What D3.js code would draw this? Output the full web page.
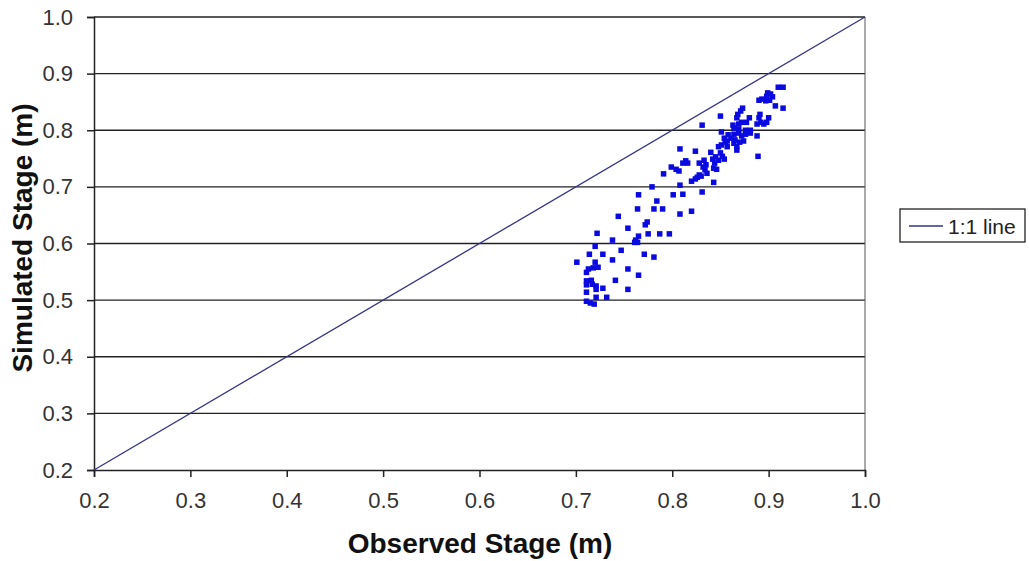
<!DOCTYPE html>
<html>
<head>
<meta charset="utf-8">
<script src="https://cdn.jsdelivr.net/npm/d3@7"></script>
<style>
  html, body { margin: 0; padding: 0; background: #fff; }
  svg { display: block; font-family: "Liberation Sans", Arial, sans-serif; }
</style>
</head>
<body>
<svg id="chart" width="1029" height="561"></svg>
<script>
// Observed vs simulated stage (m)
const observed = [
  0.711, 0.715, 0.719, 0.721, 0.732, 0.711, 0.721, 0.728, 0.721, 0.711,
  0.754, 0.711, 0.716, 0.717, 0.741, 0.765, 0.711, 0.713, 0.718, 0.723,
  0.754, 0.701, 0.720, 0.738, 0.714, 0.728, 0.771, 0.781, 0.747, 0.720,
  0.738, 0.762, 0.761, 0.764, 0.765, 0.722, 0.775, 0.787, 0.797, 0.754,
  0.774, 0.772, 0.744, 0.808, 0.764, 0.781, 0.790, 0.820, 0.784, 0.765,
  0.801, 0.811, 0.779, 0.808, 0.791, 0.807, 0.804, 0.799, 0.831, 0.820,
  0.824, 0.826, 0.830, 0.843, 0.836, 0.828, 0.834, 0.832, 0.843, 0.846,
  0.828, 0.835, 0.814, 0.816, 0.811, 0.833, 0.842, 0.844, 0.845, 0.848,
  0.850, 0.852, 0.854, 0.840, 0.824, 0.808, 0.889, 0.867, 0.867, 0.848,
  0.851, 0.855, 0.857, 0.857, 0.865, 0.864, 0.870, 0.874, 0.861, 0.854,
  0.858, 0.864, 0.869, 0.872, 0.876, 0.888, 0.851, 0.831, 0.864, 0.869,
  0.876, 0.881, 0.881, 0.863, 0.869, 0.888, 0.895, 0.877, 0.872, 0.898,
  0.892, 0.880, 0.890, 0.900, 0.850, 0.868, 0.867, 0.873, 0.871, 0.891,
  0.915, 0.907, 0.897, 0.901, 0.890, 0.893, 0.898, 0.904, 0.902, 0.899,
  0.910, 0.915
];
const simulated = [
  0.498, 0.495, 0.493, 0.505, 0.505, 0.514, 0.519, 0.521, 0.525, 0.527,
  0.519, 0.534, 0.535, 0.528, 0.535, 0.544, 0.549, 0.555, 0.557, 0.558,
  0.555, 0.567, 0.567, 0.571, 0.581, 0.581, 0.581, 0.576, 0.588, 0.595,
  0.606, 0.606, 0.602, 0.602, 0.613, 0.618, 0.617, 0.617, 0.617, 0.627,
  0.638, 0.633, 0.648, 0.652, 0.661, 0.661, 0.661, 0.657, 0.675, 0.686,
  0.686, 0.687, 0.700, 0.703, 0.723, 0.728, 0.731, 0.735, 0.691, 0.710,
  0.714, 0.717, 0.719, 0.708, 0.724, 0.721, 0.730, 0.735, 0.733, 0.731,
  0.742, 0.739, 0.746, 0.742, 0.742, 0.747, 0.749, 0.742, 0.753, 0.747,
  0.760, 0.754, 0.749, 0.761, 0.763, 0.767, 0.754, 0.765, 0.771, 0.771,
  0.774, 0.779, 0.771, 0.781, 0.783, 0.777, 0.779, 0.781, 0.786, 0.786,
  0.792, 0.793, 0.795, 0.790, 0.793, 0.790, 0.797, 0.809, 0.804, 0.802,
  0.800, 0.800, 0.795, 0.809, 0.811, 0.811, 0.811, 0.814, 0.814, 0.814,
  0.814, 0.822, 0.822, 0.822, 0.825, 0.828, 0.822, 0.839, 0.834, 0.828,
  0.839, 0.843, 0.852, 0.853, 0.853, 0.855, 0.860, 0.859, 0.864, 0.866,
  0.876, 0.876
];
const oneToOne = [0.2, 1.0];
const tickValues = [0.2, 0.3, 0.4, 0.5, 0.6, 0.7, 0.8, 0.9, 1.0];
const legendLabels = ["1:1 line"];

const points = observed.map((o, i) => ({ o, s: simulated[i] }));

const svg = d3.select("#chart");
const plotLeft = 94, plotRight = 865, plotTop = 17, plotBottom = 470;

const x = d3.scaleLinear().domain([0.2, 1.0]).range([plotLeft, plotRight]);
const y = d3.scaleLinear().domain([0.2, 1.0]).range([plotBottom, plotTop]);

const axisColor = "#222";

// horizontal gridlines
svg.append("g")
  .selectAll("line")
  .data(tickValues.slice(1))
  .join("line")
  .attr("x1", plotLeft).attr("x2", plotRight)
  .attr("y1", d => y(d)).attr("y2", d => y(d))
  .attr("stroke", axisColor).attr("stroke-width", 1.3);

// right border of plot area
svg.append("line")
  .attr("x1", plotRight).attr("x2", plotRight)
  .attr("y1", plotTop).attr("y2", plotBottom)
  .attr("stroke", "#555").attr("stroke-width", 1);

// axes
const yAxis = svg.append("g")
  .attr("transform", `translate(${plotLeft},0)`)
  .call(d3.axisLeft(y).tickValues(tickValues).tickFormat(d3.format(".1f")).tickSizeOuter(0).tickSize(7).tickPadding(14));
const xAxis = svg.append("g")
  .attr("transform", `translate(0,${plotBottom})`)
  .call(d3.axisBottom(x).tickValues(tickValues).tickFormat(d3.format(".1f")).tickSizeOuter(0).tickSize(7).tickPadding(15));

[yAxis, xAxis].forEach(g => {
  g.select(".domain").attr("stroke", axisColor).attr("stroke-width", 1.5);
  g.selectAll(".tick line").attr("stroke", axisColor).attr("stroke-width", 1.5);
  g.selectAll(".tick text")
    .attr("fill", "#333")
    .style("font-size", "22px")
    .style("font-family", "'Liberation Sans', Arial, sans-serif");
});

// 1:1 reference line
svg.append("line")
  .attr("x1", x(oneToOne[0])).attr("y1", y(oneToOne[0]))
  .attr("x2", x(oneToOne[1])).attr("y2", y(oneToOne[1]))
  .attr("stroke", "#333388").attr("stroke-width", 1.3);

// scatter points as small squares
const sz = 5.5;
svg.append("g")
  .selectAll("rect")
  .data(points)
  .join("rect")
  .attr("x", d => x(d.o) - sz / 2)
  .attr("y", d => y(d.s) - sz / 2)
  .attr("width", sz).attr("height", sz)
  .attr("fill", "#0a0ae0");

// axis titles
svg.append("text")
  .attr("x", 480).attr("y", 553)
  .attr("text-anchor", "middle")
  .style("font-size", "28px").style("font-weight", "bold")
  .attr("fill", "#111")
  .text("Observed Stage (m)");

svg.append("text")
  .attr("transform", "translate(32,238) rotate(-90)")
  .attr("text-anchor", "middle")
  .style("font-size", "28px").style("font-weight", "bold")
  .attr("fill", "#111")
  .text("Simulated Stage (m)");

// legend
const lg = svg.append("g").attr("transform", "translate(900,209)");
lg.append("rect")
  .attr("width", 125).attr("height", 33)
  .attr("fill", "#fff").attr("stroke", "#222").attr("stroke-width", 1.3);
lg.append("line")
  .attr("x1", 9).attr("x2", 43).attr("y1", 17).attr("y2", 17)
  .attr("stroke", "#333388").attr("stroke-width", 1.3);
lg.append("text")
  .attr("x", 48).attr("y", 24.5)
  .style("font-size", "21px").attr("fill", "#222")
  .text(legendLabels[0]);
</script>
</body>
</html>
